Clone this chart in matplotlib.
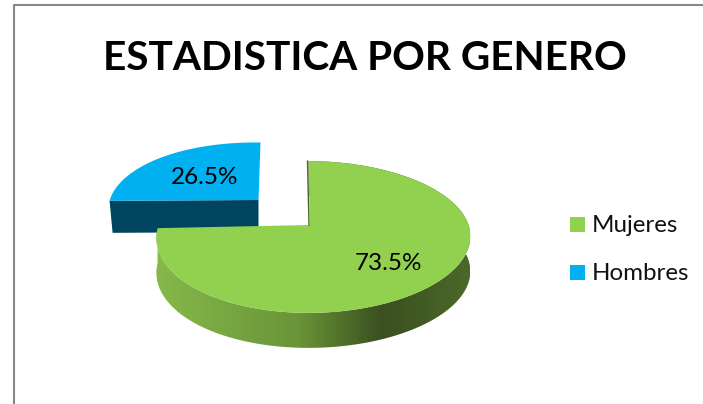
import numpy as np
import matplotlib
matplotlib.use('Agg')
import matplotlib.pyplot as plt
from matplotlib.colors import LinearSegmentedColormap
from matplotlib.patches import Polygon, Rectangle

title = 'ESTADISTICA POR GENERO'
labels = ['Mujeres', 'Hombres']
values = [73.5, 26.5]
colors = ['#92d050', '#00b0f0']
wall_dark = '#00445f'
green_shades = ['#86b84a', '#6a9538', '#3a5020', '#4c6829']


# Tilted disc: angle is clockwise from the back of the pie, perspective makes the front larger
def project(theta, cx, cy, rx=155.0, ry=74.0, p=0.158):
    theta = theta + np.radians(3) * np.sin(theta) ** 2
    u = np.sin(theta)
    v = -np.cos(theta)
    d = 1 - p * v
    return cx + rx * u / d - 5 * v ** 2, cy + ry * v / d


def wedge_points(a0, a1, cx, cy, sx=1.0, sy=1.0):
    t = np.linspace(a0, a1, 200)
    return project(t, cx, cy, rx=155.0 * sx, ry=74.0 * sy)


if __name__ == '__main__':
    fig = plt.figure(figsize=(7.03, 4.04), dpi=100)
    ax = fig.add_axes([0, 0, 1, 1])
    plt.rcParams['font.family'] = ['Lato', 'DejaVu Sans']

    # frame of the chart area
    ax.plot([13.5, 13.5, 703], [404, 5, 5], color='#888888', lw=1.5, solid_capstyle='butt')

    angles = np.cumsum([0] + values) / sum(values) * 2 * np.pi

    # Hombres: exploded slice, drawn first
    bx, by = 258.5, 200
    x, y = wedge_points(angles[1], angles[2], bx + 7, by, sx=1.0, sy=0.9)
    y = y - 2 * (1 - (x - x[0]) / (x[-1] - x[0]))
    depth_b = 32
    ax.add_patch(Polygon([(x[0], y[0]), (bx, by), (bx, by + depth_b), (x[0] + 3, y[0] + depth_b)],
                         closed=True, color=wall_dark, lw=0))
    ax.add_patch(Polygon(np.r_[[(bx, by)], np.c_[x, y]], closed=True, color=colors[1], lw=0))

    # Mujeres: side wall with gradient, then top
    gx, gy = 310, 225
    depth_g = 35
    x, y = wedge_points(angles[0], angles[1], gx + 3.5, gy)
    wall = Polygon(np.r_[np.c_[x, y], np.c_[x, y + depth_g][::-1]], closed=True, color='none', lw=0)
    ax.add_patch(wall)
    cmap = LinearSegmentedColormap.from_list('wall', list(zip([0, 0.45, 0.72, 1], green_shades)))
    im = ax.imshow(np.linspace(0, 1, 256)[None, :], extent=[x.min(), x.max(), 360, 150],
                   cmap=cmap, aspect='auto')
    im.set_clip_path(wall)
    ax.plot([gx - 1, x[0] - 1], [gy, y[0]], color='#4c6829', lw=1)
    ax.add_patch(Polygon(np.r_[[(gx, gy)], np.c_[x, y]], closed=True, color=colors[0], lw=0))

    # value labels
    ax.text(205, 178, f'{values[1]}%', fontsize=17.5, ha='center', va='center', color='black')
    ax.text(389, 264, f'{values[0]}%', fontsize=17.5, ha='center', va='center', color='black')

    # legend
    for name, col, ypos in zip(labels, colors, [224.5, 272.5]):
        ax.add_patch(Rectangle((570, ypos - 7.5), 15, 15, color=col, lw=0))
        ax.text(592, ypos + 1.5, name, fontsize=17.4, ha='left', va='center', color='#111111')

    ax.text(365, 59, title, fontsize=29.2, fontweight='bold', ha='center', va='center', color='black')

    ax.set_xlim(0, 703)
    ax.set_ylim(404, 0)
    ax.axis('off')
    fig.savefig('out.png', dpi=100)
